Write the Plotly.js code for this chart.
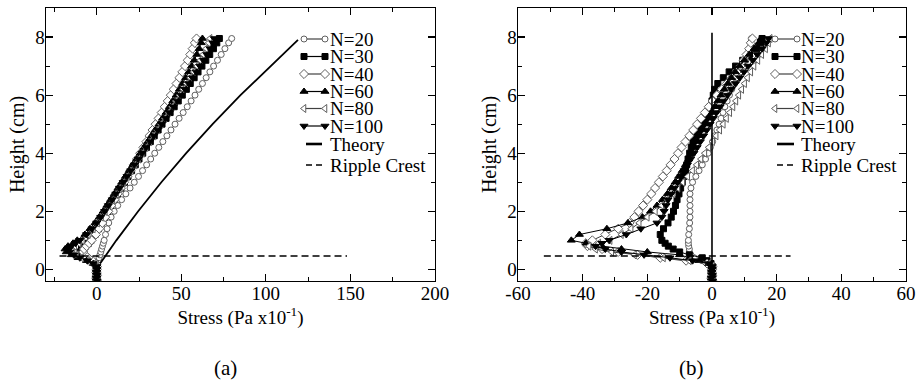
<!DOCTYPE html>
<html>
<head>
<meta charset="utf-8">
<script src="https://cdn.plot.ly/plotly-3.0.1.min.js"></script>
<style>html,body{margin:0;padding:0;background:#fff;}#chart{width:917px;height:388px;}</style>
</head>
<body>
<div id="chart"></div>
<script>
// ---------------- DATA ----------------
const seriesNames = ['N=20', 'N=30', 'N=40', 'N=60', 'N=80', 'N=100'];

// common measurement heights (cm)
const heights = [-0.4, -0.3, -0.2, -0.1, 0, 0.1, 0.2, 0.3, 0.4, 0.5, 0.6, 0.7, 0.8, 0.9, 1.0,
  1.2, 1.4, 1.6, 1.8, 2.0, 2.2, 2.4, 2.6, 2.8, 3.0, 3.2, 3.4, 3.6, 3.8, 4.0, 4.2, 4.4, 4.6, 4.8,
  5.0, 5.2, 5.4, 5.6, 5.8, 6.0, 6.2, 6.4, 6.6, 6.8, 7.0, 7.2, 7.4, 7.6, 7.8, 7.95];

// panel (a) stresses (Pa x10^-1)
const stressA20 = [0.2, -0.3, 0.1, -0.2, 0, 0.1, 0.3, 0.9, 1.4, 1.9, 2.4, 2.9, 3.4, 3.9, 4.4,
  5.2, 6.1, 7.1, 8.5, 10.3, 12.4, 14.7, 17.2, 19.7, 22.2, 24.7, 27.1, 29.5, 31.9, 34.3, 36.7, 39.1, 41.5, 43.9,
  46.3, 48.7, 51.1, 53.5, 55.8, 58.1, 60.3, 62.5, 64.7, 66.9, 69.1, 71.4, 73.6, 75.8, 78, 79.8];
const stressA30 = [0.2, -0.3, 0.1, -0.2, 0, 0.1, -1, -4, -7, -9, -9.8, -9, -7, -5, -3.5,
  -1, 1, 2.8, 4.5, 6.3, 8.2, 10.2, 12.2, 14.3, 16.4, 18.5, 20.6, 22.8, 25, 27.2, 29.4, 31.7, 34, 36.3,
  38.6, 41, 43.4, 45.8, 48.2, 50.6, 53, 55.3, 57.6, 59.9, 62.2, 64.5, 66.8, 69, 71, 72.5];
const stressA40 = [0.2, -0.3, 0.1, -0.2, 0, 0.1, -0.5, -2.5, -5, -7, -8, -7.5, -6, -4.5, -3,
  -0.5, 1.5, 3.3, 5, 6.8, 8.6, 10.5, 12.4, 14.3, 16.2, 18.1, 20, 21.9, 23.8, 25.7, 27.6, 29.4, 31.2, 33,
  34.8, 36.6, 38.4, 40.2, 42, 43.8, 45.5, 47.2, 48.9, 50.6, 52.2, 53.8, 55.3, 56.7, 58, 59];
const stressA60 = [0.2, -0.3, 0.1, -0.2, 0, 0.1, -2, -6, -11, -15, -18, -18.7, -17, -14, -11.5,
  -7, -4, -1, 1.5, 3.8, 6, 8.2, 10.4, 12.6, 14.8, 17, 19.2, 21.4, 23.6, 25.8, 28, 30.2, 32.4, 34.6,
  36.8, 38.9, 41, 43, 45, 47, 48.9, 50.8, 52.6, 54.4, 56.1, 57.7, 59.2, 60.6, 61.8, 62.5];
const stressA80 = [0.2, -0.3, 0.1, -0.2, 0, 0.1, -1.5, -5, -9, -12, -14, -14.5, -13, -10.5, -8.5,
  -5, -2, 0.5, 2.8, 5, 7.2, 9.4, 11.6, 13.8, 16, 18.2, 20.4, 22.6, 24.8, 27, 29.2, 31.4, 33.6, 35.8,
  38, 40.2, 42.4, 44.6, 46.8, 49, 51.1, 53.2, 55.3, 57.3, 59.3, 61.2, 63, 64.7, 66.2, 67];
const stressA100 = [0.2, -0.3, 0.1, -0.2, 0, 0.1, -2, -5.5, -10, -13.5, -16, -16.5, -15, -12.5, -10,
  -6, -2.8, 0, 2.4, 4.7, 6.9, 9.1, 11.3, 13.5, 15.7, 17.9, 20.1, 22.3, 24.6, 26.9, 29.2, 31.5, 33.8, 36.1,
  38.4, 40.7, 43, 45.3, 47.6, 49.9, 52.2, 54.4, 56.6, 58.8, 61, 63.1, 65.1, 67, 68.7, 69.5];

// panel (b) stresses (Pa x10^-1)
const stressB20 = [0.2, -0.2, 0.1, -0.1, 0, 0.1, -0.5, -3, -5.5, -6.5, -7, -7, -7.2, -7.3, -7.3,
  -7.2, -7, -6.9, -6.8, -6.8, -6.8, -6.8, -6.8, -6.5, -6, -5, -4, -3, -2, -1.2, -0.5, 0.2, 0.8, 1.5,
  2.2, 2.8, 3.4, 4, 4.7, 5.4, 6.1, 7, 8, 9, 9.8, 10.5, 11.2, 11.7, 12, 12.2];
const stressB30 = [0.2, -0.2, 0.1, -0.1, 0, 0.1, -0.3, -1.5, -3, -7, -10, -12, -13.5, -14.5, -15.5,
  -16, -15, -13.6, -12.6, -11.9, -11.3, -10.8, -10.2, -9.7, -9.2, -8.7, -8.2, -7.8, -7.4, -6.9, -6.4, -5.9, -5, -4,
  -3, -2, -1.2, -0.5, 0, 0.4, 0.8, 1.8, 3.5, 5.3, 7.3, 9.5, 11.6, 13.8, 15, 15.5];
const stressB40 = [0.2, -0.2, 0.1, -0.1, 0, 0.1, -1.5, -8, -16, -23, -29, -34, -38.5, -39, -37,
  -33, -29, -25.5, -24, -22.7, -21.3, -20, -18.8, -17.6, -16.4, -15.2, -14, -12.8, -11.6, -10.5, -9.4, -8.2, -7, -5.8,
  -4.6, -3.4, -2.2, -1, 0.2, 1.5, 3, 4.6, 6.2, 7.6, 8.8, 9.8, 10.7, 11.5, 12, 12.5];
const stressB60 = [0.2, -0.2, 0.1, -0.1, 0, 0.1, -1, -4, -7, -10, -20, -28, -34, -39, -43.5,
  -41, -32.5, -26, -21.5, -19, -17, -15.3, -13.8, -12.6, -11.4, -10.3, -9.2, -8.2, -7.2, -6.3, -5.4, -4.5, -3.6, -2.7,
  -1.8, -0.9, 0, 0.9, 1.8, 2.8, 3.8, 4.9, 6, 7.2, 8.5, 10, 11.5, 13, 14.5, 15.2];
const stressB80 = [0.2, -0.2, 0.1, -0.1, 0, 0.1, -1, -7, -15, -24, -31, -36, -38, -35, -31.5,
  -28, -25, -22.5, -20, -17.5, -15.5, -13.8, -12, -10.5, -9, -7.5, -6, -4.7, -3.4, -2.2, -1, 0.2, 1.3, 2.4,
  3.5, 4.5, 5.5, 6.5, 7.4, 8.3, 9.2, 10.1, 11, 12, 13, 14.2, 15.4, 16.6, 17.5, 18];
const stressB100 = [0.2, -0.2, 0.1, -0.1, 0, 0.1, -1, -6, -13, -21, -28, -33, -36, -34, -31.8,
  -26.5, -22, -17, -15.5, -14.8, -14.2, -13.6, -12.6, -11.6, -10.6, -9.6, -8.6, -7.6, -6.6, -5.6, -4.6, -3.6, -2.6, -1.6,
  -0.6, 0.4, 1.4, 2.5, 3.6, 4.8, 6, 7.3, 8.6, 9.9, 11.2, 12.6, 14, 15.5, 16.8, 17.5];

// theory curves
const theoryHeightsA = [0.2, 1, 2, 3, 4, 5, 6, 7, 7.9];
const theoryStressA = [2, 11.6, 24.5, 38.2, 52.9, 68.5, 85, 102.6, 119];
const theoryHeightsB = [-0.4, 8.15];
const theoryStressB = [0, 0];

// ripple crest
const crestHeight = [0.46, 0.46];
const crestStressA = [-22, 148];
const crestStressB = [-52, 24.3];

// tick labels
const xTicksA = [0, 50, 100, 150, 200];
const xTickTextA = ['0', '50', '100', '150', '200'];
const xTicksB = [-60, -40, -20, 0, 20, 40, 60];
const xTickTextB = ['-60', '-40', '-20', '0', '20', '40', '60'];
const yTicks = [0, 2, 4, 6, 8];
const yTickText = ['0', '2', '4', '6', '8'];

// ---------------- STYLE ----------------
const SERIF = 'Liberation Serif';
const styles = [
  {symbol: 'circle', fill: '#fff', edge: '#606060', line: '#404040', size: 6},
  {symbol: 'square', fill: '#000', edge: '#000', line: '#000', size: 6},
  {symbol: 'diamond', fill: '#fff', edge: '#606060', line: '#404040', size: 7},
  {symbol: 'triangle-up', fill: '#000', edge: '#000', line: '#000', size: 7},
  {symbol: 'triangle-left', fill: '#fff', edge: '#606060', line: '#404040', size: 7},
  {symbol: 'triangle-down', fill: '#000', edge: '#000', line: '#000', size: 7}
];
const seriesA = [stressA20, stressA30, stressA40, stressA60, stressA80, stressA100];
const seriesB = [stressB20, stressB30, stressB40, stressB60, stressB80, stressB100];

function seriesTrace(xs, ys, st, xa, ya) {
  return {
    type: 'scatter', mode: 'lines+markers', x: xs, y: ys, xaxis: xa, yaxis: ya,
    line: {color: st.line, width: 1},
    marker: {symbol: st.symbol, size: st.size, color: st.fill, line: {color: st.edge, width: 1}},
    showlegend: false, hoverinfo: 'x+y', cliponaxis: true
  };
}

const traces = [];
seriesA.forEach((s, i) => traces.push(seriesTrace(s, heights, styles[i], 'x', 'y')));
seriesB.forEach((s, i) => traces.push(seriesTrace(s, heights, styles[i], 'x2', 'y2')));
traces.push({type: 'scatter', mode: 'lines', x: theoryStressA, y: theoryHeightsA, xaxis: 'x', yaxis: 'y',
  line: {color: '#000', width: 1.8}, showlegend: false});
traces.push({type: 'scatter', mode: 'lines', x: theoryStressB, y: theoryHeightsB, xaxis: 'x2', yaxis: 'y2',
  line: {color: '#000', width: 1.6}, showlegend: false});
traces.push({type: 'scatter', mode: 'lines', x: crestStressA, y: crestHeight, xaxis: 'x', yaxis: 'y',
  line: {color: '#000', width: 1.3, dash: '7px,4px'}, showlegend: false});
traces.push({type: 'scatter', mode: 'lines', x: crestStressB, y: crestHeight, xaxis: 'x2', yaxis: 'y2',
  line: {color: '#000', width: 1.3, dash: '7px,4px'}, showlegend: false});

// ---------------- CUSTOM LEGENDS (pixel frame over plot area) ----------------
const legendRows = [31, 48.5, 66, 83.5, 100.5, 118, 136, 157];
const legendLabels = seriesNames.concat(['Theory', 'Ripple Crest']);
const legendX = [{sym0: 258, sym1: 279, text: 283}, {sym0: 729, sym1: 751, text: 754}];
const annotations = [];
legendX.forEach(L => {
  styles.forEach((st, i) => {
    traces.push({type: 'scatter', mode: 'lines+markers', x: [L.sym0, L.sym1], y: [legendRows[i], legendRows[i]],
      xaxis: 'x3', yaxis: 'y3', line: {color: st.line, width: 1.2},
      marker: {symbol: st.symbol, size: st.size, color: st.fill, line: {color: st.edge, width: 1}},
      showlegend: false, hoverinfo: 'skip'});
  });
  traces.push({type: 'scatter', mode: 'lines', x: [L.sym0 + 2, L.sym1 - 3], y: [legendRows[6], legendRows[6]],
    xaxis: 'x3', yaxis: 'y3', line: {color: '#000', width: 2.6}, showlegend: false, hoverinfo: 'skip'});
  traces.push({type: 'scatter', mode: 'lines', x: [L.sym0 + 2, L.sym1 - 3], y: [legendRows[7], legendRows[7]],
    xaxis: 'x3', yaxis: 'y3', line: {color: '#000', width: 1.3, dash: '6px,4px'}, showlegend: false, hoverinfo: 'skip'});
  legendLabels.forEach((lab, i) => {
    annotations.push({text: lab, x: L.text, y: legendRows[i], xref: 'x3', yref: 'y3',
      xanchor: 'left', yanchor: 'middle', showarrow: false, borderpad: 0,
      font: {family: SERIF, size: 19}});
  });
});
annotations.push({text: '(a)', x: 0.2093, y: -0.318, xref: 'paper', yref: 'paper', xanchor: 'center', yanchor: 'middle',
  showarrow: false, font: {family: SERIF, size: 21}});
annotations.push({text: '(b)', x: 0.751, y: -0.318, xref: 'paper', yref: 'paper', xanchor: 'center', yanchor: 'middle',
  showarrow: false, font: {family: SERIF, size: 21}});

function axisCommon(extra) {
  return Object.assign({
    showgrid: false, zeroline: false, showline: true, linecolor: '#000', linewidth: 1.4, mirror: 'ticks',
    ticks: 'inside', ticklen: 7, tickwidth: 1.2, tickcolor: '#000', tickmode: 'array',
    tickfont: {family: SERIF, size: 19}, fixedrange: true
  }, extra);
}
const xTitle = {text: 'Stress (Pa x10<sup>-1</sup>)', font: {family: SERIF, size: 19}, standoff: 0};
const yTitle = {text: 'Height (cm)', font: {family: SERIF, size: 20}, standoff: 5};

const layout = {
  width: 917, height: 388,
  margin: {l: 46, r: 11, t: 8, b: 107},
  paper_bgcolor: '#fff', plot_bgcolor: 'rgba(0,0,0,0)',
  font: {family: SERIF, color: '#000', size: 19},
  showlegend: false,
  xaxis: axisCommon({domain: [0, 0.4523], range: [-30, 200], tickvals: xTicksA, ticktext: xTickTextA, anchor: 'y',
    ticklabelstandoff: -5,
    minor: {tickvals: [-25, 25, 75, 125, 175], ticks: 'inside', ticklen: 4, tickcolor: '#000', tickwidth: 1}, title: xTitle}),
  yaxis: axisCommon({domain: [0, 1], range: [-0.4, 9], tickvals: yTicks, ticktext: yTickText, anchor: 'x',
    ticklabelstandoff: -4,
    minor: {tickvals: [1, 3, 5, 7, 9], ticks: 'inside', ticklen: 4, tickcolor: '#000', tickwidth: 1}, title: yTitle}),
  xaxis2: axisCommon({domain: [0.5488, 1], range: [-60, 60], tickvals: xTicksB, ticktext: xTickTextB, anchor: 'y2',
    ticklabelstandoff: -5,
    minor: {tickvals: [-50, -30, -10, 10, 30, 50], ticks: 'inside', ticklen: 4, tickcolor: '#000', tickwidth: 1}, title: xTitle}),
  yaxis2: axisCommon({domain: [0, 1], range: [-0.4, 9], tickvals: yTicks, ticktext: yTickText, anchor: 'x2',
    ticklabelstandoff: -4,
    minor: {tickvals: [1, 3, 5, 7, 9], ticks: 'inside', ticklen: 4, tickcolor: '#000', tickwidth: 1}, title: yTitle}),
  xaxis3: {domain: [0, 1], range: [0, 860], visible: false, anchor: 'y3', fixedrange: true},
  yaxis3: {domain: [0, 1], range: [273, 0], visible: false, anchor: 'x3', fixedrange: true},
  annotations: annotations
};

Plotly.newPlot('chart', traces, layout, {displayModeBar: false, staticPlot: true});
</script>
</body>
</html>
